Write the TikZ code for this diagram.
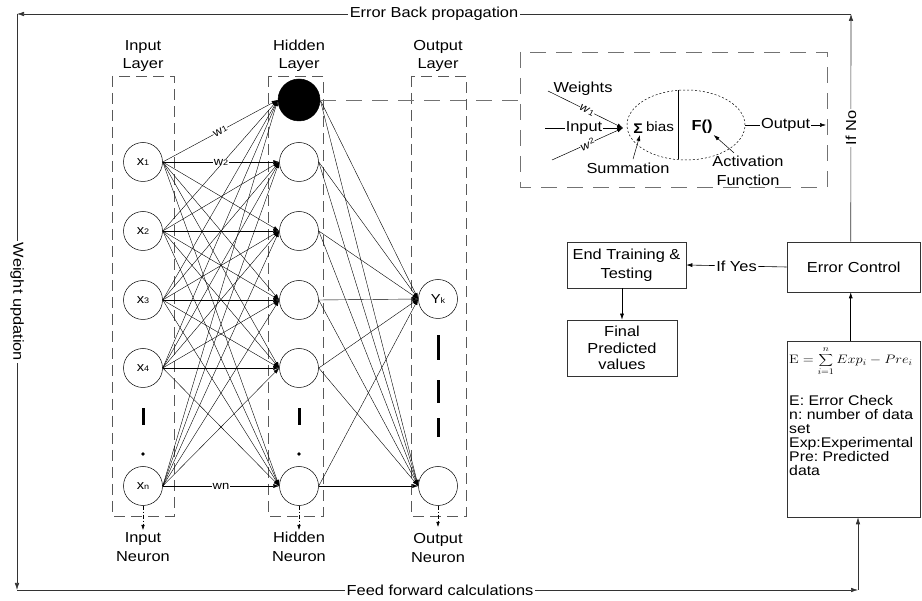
\documentclass[tikz,border=0pt]{standalone}
\usepackage[no-math]{fontspec}
\setmainfont[FakeStretch=1.13]{Liberation Sans}
\usetikzlibrary{arrows.meta,shapes.geometric}
\frenchspacing
\begin{document}
\begin{tikzpicture}[x=1pt,y=-1pt,
  font=\fontsize{14.5}{18.5}\selectfont,
  >={Latex[length=6pt,width=4pt]},
  neuron/.style={circle, draw, minimum size=39pt, inner sep=0pt, line width=0.5pt},
  layerbox/.style={draw=black!65, dash pattern=on 11pt off 6pt, line width=0.6pt},
  dbox/.style={draw=black!55, dash pattern=on 16pt off 10pt, line width=0.7pt},
  conn/.style={->, line width=0.4pt},
  wlab/.style={fill=white, inner sep=0.3pt, font=\fontsize{11.5}{11.5}\selectfont},
  lbl/.style={fill=white, inner sep=1.5pt},
  boxnode/.style={draw=black!80, line width=0.6pt, align=center},
  loop/.style={->, line width=0.6pt, draw=black!80, >={Latex[length=7pt,width=4.5pt]}},
  downarr/.style={->, line width=0.5pt, dash pattern=on 4pt off 2pt on 1pt off 2pt, >={Latex[length=5pt,width=3.5pt]}}
]
\useasboundingbox (0,0) rectangle (922,601);

% ---------- layer boxes ----------
\draw[layerbox] (112,76) rectangle (174,516);
\draw[layerbox] (268,76) rectangle (323,516);
\draw[layerbox] (411,76) rectangle (466,516);

\node[align=center] (lin) at (143,56) {Input\\Layer};
\node[align=center] (lhid) at (299,56) {Hidden\\Layer};
\node[align=center] (lout) at (438,56) {Output\\Layer};

% ---------- neurons ----------
\newcommand{\nlab}[2]{{\fontsize{13}{13}\selectfont #1}{\fontsize{8}{8}\selectfont #2}}
\node[neuron] (x1) at (143,162) {\nlab{x}{1}};
\node[neuron] (x2) at (143,231) {\nlab{x}{2}};
\node[neuron] (x3) at (143,300) {\nlab{x}{3}};
\node[neuron] (x4) at (143,368) {\nlab{x}{4}};
\node[neuron] (xn) at (143,486) {\nlab{x}{n}};

\node[neuron, fill=black, minimum size=42pt] (h1) at (299,100) {};
\node[neuron] (h2) at (299,162) {};
\node[neuron] (h3) at (299,231) {};
\node[neuron] (h4) at (299,300) {};
\node[neuron] (h5) at (299,368) {};
\node[neuron] (h6) at (299,486) {};

\node[neuron] (y1) at (438,299) {\nlab{Y}{k}};
\node[neuron] (y2) at (438,486) {};

% ---------- connections ----------
\foreach \i in {x1,x2,x3,x4,xn}
  \foreach \j in {h1,h2,h3,h4,h5,h6}
    \draw[conn] (\i.east) -- (\j.west);
\foreach \j in {h1,h2,h3,h4,h5,h6}
  \foreach \k in {y1,y2}
    \draw[conn] (\j.east) -- (\k.west);

\path (x1.east) -- node[wlab, sloped] {w{\fontsize{8}{8}\selectfont 1}} (h1.west);
\path (x1.east) -- node[wlab] {w{\fontsize{8}{8}\selectfont 2}} (h2.west);
\path (xn.east) -- node[wlab] {wn} (h6.west);

% ---------- dots ----------
\fill (141.5,408) rectangle (144.5,425);
\fill (143,454) circle (1.8);
\fill (297.5,408) rectangle (300.5,425);
\fill (299,454) circle (1.8);
\fill (436.5,335) rectangle (439.5,360);
\fill (436.5,380) rectangle (439.5,403);
\fill (436.5,418) rectangle (439.5,437);

% ---------- neuron labels below ----------
\coordinate (din) at (143,530);
\coordinate (dhid) at (299,530);
\coordinate (dout) at (438,527);
\draw[downarr] (xn.south) -- (din);
\draw[downarr] (h6.south) -- (dhid);
\draw[downarr] (y2.south) -- (dout);
\node[align=center] (nin) at (143,547) {Input\\Neuron};
\node[align=center] (nhid) at (299,547) {Hidden\\Neuron};
\node[align=center] (nout) at (438,548) {Output\\Neuron};

% ---------- neuron detail ----------
\draw[dbox] (520,52) rectangle (827,187);
\coordinate (dl) at (520,100);
\draw[dbox] (h1.east) -- (dl);

\node[ellipse, draw, line width=0.5pt, dash pattern=on 2pt off 2pt, minimum width=118pt, minimum height=70pt, inner sep=0pt] (ell) at (686,125) {};
\coordinate (vt) at (678,90.5);
\coordinate (vb) at (678,159.5);
\draw[line width=0.5pt] (vt) -- (vb);

\coordinate (sumin) at (623,128);
\coordinate (win1) at (548,91);
\coordinate (win) at (545,128);
\coordinate (win2) at (552,160);
\node (wts) at (583,89) {Weights};
\draw[->, line width=0.5pt] (win1) -- node[wlab, sloped, pos=0.52] {\textit{w}{\fontsize{8}{8}\selectfont 1}} (sumin);
\draw[->, line width=0.5pt] (win) -- node[lbl, inner sep=1pt] {Input} (sumin);
\draw[->, line width=0.5pt] (win2) -- node[wlab, sloped, pos=0.5] {\textit{w}\raisebox{3pt}{\fontsize{8}{8}\selectfont 2}} (sumin);

\node[inner sep=1pt] (sig) at (638,129) {\fontsize{14}{14}\selectfont\bfseries Σ};
\node[inner sep=1pt, font=\fontsize{13.5}{14}\selectfont] (bias) at (660,127) {bias};
\node[inner sep=1pt] (fn) at (702,127) {\bfseries F()};
\node (summ) at (628,168) {Summation};
\node[align=center] (act) at (748,171) {Activation\\Function};
\draw[->, line width=0.5pt] ([xshift=5pt]summ.north) -- ([xshift=2pt]sig.south);
\draw[->, line width=0.5pt] ([xshift=-14pt]act.north) -- (fn.south east);

\coordinate (dr) at (826,125);
\draw[->, line width=0.5pt] (ell.east) -- node[lbl, inner sep=1pt] {Output} (dr);

% ---------- right side boxes ----------
\node[boxnode, minimum width=133.5pt, minimum height=50pt] (ec) at (853.75,267) {Error Control};
\node[boxnode, minimum width=119pt, minimum height=46pt, font=\fontsize{14.5}{19}\selectfont] (end) at (626.5,265) {End Training \&\\Testing};
\node[boxnode, minimum width=110pt, minimum height=56pt, font=\fontsize{14.5}{16.5}\selectfont] (fin) at (622,348) {Final\\Predicted\\values};
\node[boxnode, minimum width=133.5pt, minimum height=176pt] (fb) at (853.75,429) {};

\node[anchor=north west, inner sep=0pt, font=\fontsize{14.5}{14}\selectfont] (frm) at (789,347) {\scalebox{1}[0.85]{$\displaystyle\mathrm{E}=\sum_{i=1}^{n}Exp_i-Pre_i$}};
\node[anchor=north west, align=left, inner sep=0pt, font=\fontsize{14}{14}\selectfont] (ftx) at (789,395) {E: Error Check\\n: number of data\\set\\Exp:Experimental\\Pre: Predicted\\data};

\draw[->, line width=0.6pt] (ec.west) -- node[lbl] {If Yes} (end.east);
\draw[->, line width=0.6pt] (end.south -| fin.north) -- (fin.north);
\draw[->, line width=0.6pt] ([xshift=-3pt]fb.north) -- ([xshift=-3pt]ec.south);

% ---------- outer loop ----------
\coordinate (tr) at (851,14);
\coordinate (tl) at (17,14);
\coordinate (bl) at (17,590);
\coordinate (br) at (858,590);
\draw[loop] ([xshift=-3pt]ec.north) -- node[lbl, rotate=90] {If No} (tr);
\draw[loop] (tr) -- node[lbl] {Error Back propagation} (tl);
\draw[loop] (tl) -- node[lbl, rotate=-90] {Weight updation} (bl);
\draw[loop] (bl) -- node[lbl, pos=0.503] {Feed forward calculations} (br);
\draw[loop] (br) -- (br |- fb.south);
\end{tikzpicture}
\end{document}
